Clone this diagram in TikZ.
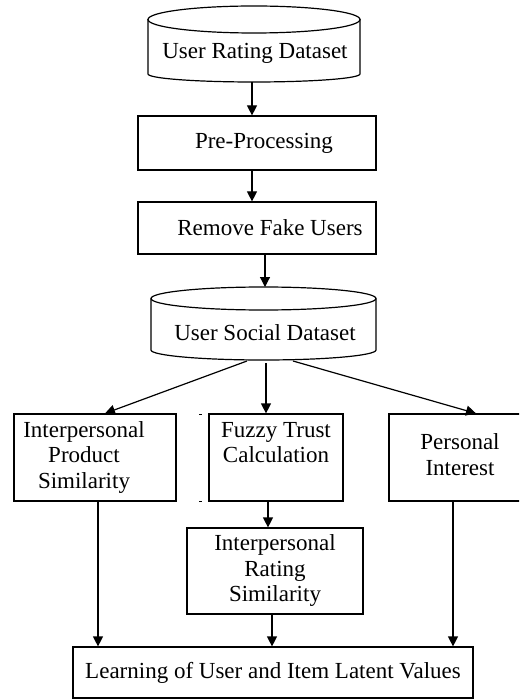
\documentclass[tikz,border=0pt]{standalone}
\usepackage{fontspec}
\setmainfont{Liberation Serif}
\usetikzlibrary{arrows.meta}
\begin{document}
\begin{tikzpicture}[x=1pt,y=-1pt,
  lbl/.style={font=\fontsize{23}{25.5}\selectfont, inner sep=0pt},
  box/.style={lbl, draw, line width=1.2pt, rectangle},
  arr/.style={line width=1.2pt, -{Triangle[length=10pt,width=10pt]}},
  outline/.style={line width=1.2pt}]
\useasboundingbox (0,0) rectangle (519,700);
\clip (0,0) rectangle (519,700);

% database: user ratings
\draw[outline] (148,19) -- (148,74) arc(180:360:106pt and 8pt) -- (360,19);
\draw[outline] (254,19.5) ellipse (106pt and 13.5pt);
\node[lbl] (urd) at (255,53) {User Rating Dataset};
\coordinate (urdb) at (252,82);

% processing steps
\node[box, minimum width=238pt, minimum height=54pt] (pre) at (257,143) {\hspace*{14pt}Pre-Processing};
\node[box, minimum width=238pt, minimum height=52pt] (rfu) at (257,228) {\hspace*{26pt}Remove Fake Users};

% database: social relations
\draw[outline] (151,298.5) -- (151,350) arc(180:360:112.5pt and 10pt) -- (376,298.5);
\draw[outline] (263.5,298.5) ellipse (112.5pt and 11.5pt);
\node[lbl] (usd) at (265,333) {User Social Dataset};
\coordinate (usdt) at (265,287);
\coordinate (usdl) at (247,361);
\coordinate (usdm) at (266,363);
\coordinate (usdr) at (293,361);

% feature boxes
\node[box, minimum width=162pt, minimum height=87pt] (ips) at (95,457.5)
  {\begin{tabular}{@{}c@{}}Interpersonal\\Product\\Similarity\end{tabular}\hspace*{22pt}};
\node[box, minimum width=134pt, minimum height=87pt] (ftc) at (276,457.5)
  {\begin{tabular}{@{}c@{}}Fuzzy Trust\\Calculation\\ \mbox{}\end{tabular}};
\node[box, minimum width=142pt, minimum height=87pt] (pin) at (460,457.5)
  {\begin{tabular}{@{}c@{}}Personal\\Interest\end{tabular}};
\node[box, minimum width=176pt, minimum height=86pt] (irs) at (275,571)
  {\begin{tabular}{@{}c@{}}Interpersonal\\Rating\\Similarity\end{tabular}};
\node[box, minimum width=400pt, minimum height=51pt] (lat) at (273,672.5)
  {\raisebox{4pt}{Learning of User and Item Latent Values}};

% small marks beside the trust box
\draw[line width=1pt] (199,414) -- (202,414);
\draw[line width=1pt] (199,501) -- (202,501);

% connectors
\draw[arr] (urdb) -- (pre.north -| urdb);
\draw[arr] (pre.south -| urdb) -- (rfu.north -| urdb);
\draw[arr] (rfu.south -| usdt) -- (usdt);
\draw[arr] (usdl) -- (ips.north -| 105,0);
\draw[arr] (usdm) -- (ftc.north -| usdm);
\draw[arr] (usdr) -- (pin.north -| 476,0);
\draw[arr] (ftc.south -| 268,0) -- (irs.north -| 268,0);
\draw[arr] (ips.south -| 98,0) -- (lat.north -| 98,0);
\draw[arr] (irs.south -| 272,0) -- (lat.north -| 272,0);
\draw[arr] (pin.south -| 453,0) -- (lat.north -| 453,0);
\end{tikzpicture}
\end{document}
